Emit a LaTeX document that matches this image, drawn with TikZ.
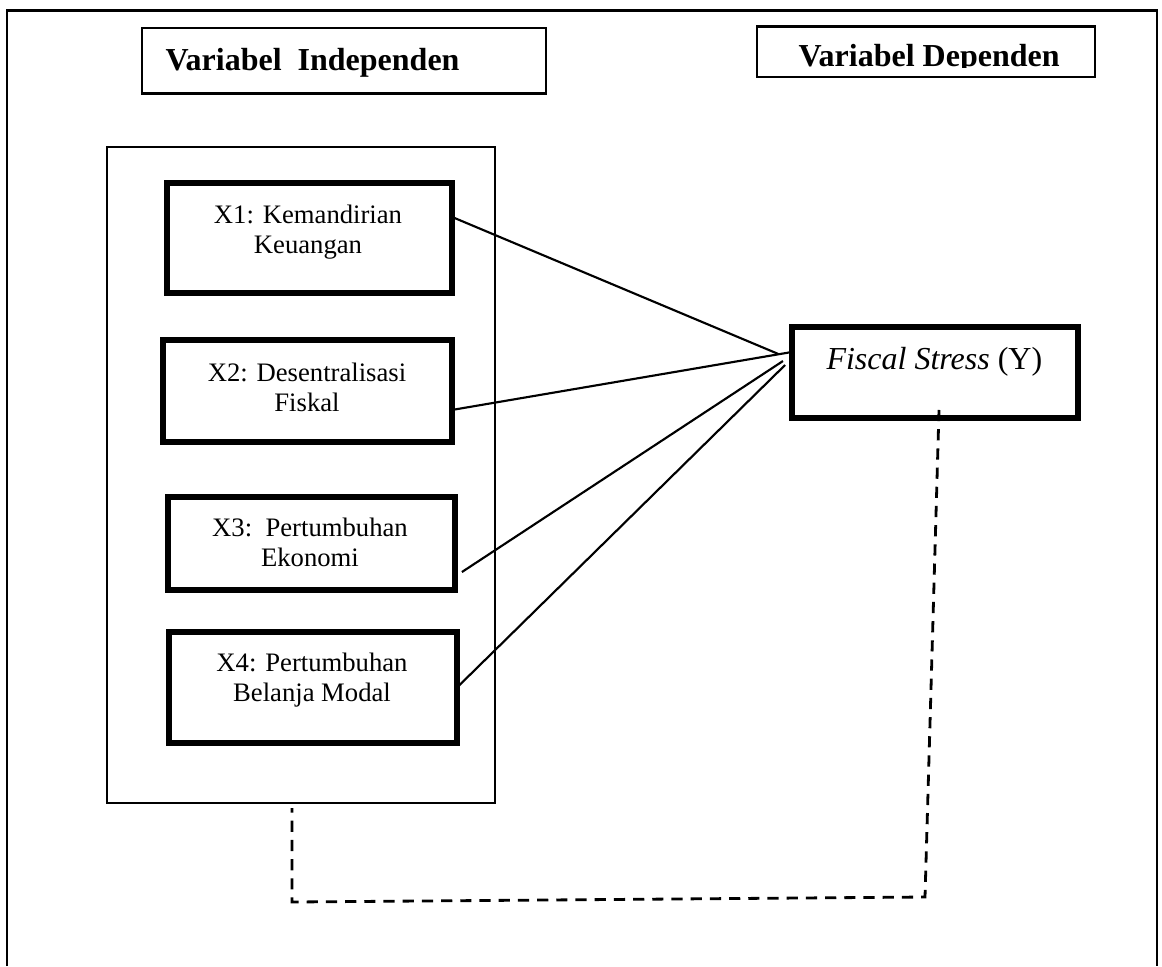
\documentclass[tikz,border=0pt]{standalone}
\usepackage{fontspec}
\setmainfont{Liberation Serif}
\usetikzlibrary{calc}
\begin{document}
\begin{tikzpicture}[x=0.375pt, y=-0.375pt,
  frame/.style={line width=0.8pt},
  hdrbox/.style={draw, line width=1.1pt, inner sep=0pt, outer sep=0pt},
  varbox/.style={draw, line width=2.2pt, inner sep=0pt, outer sep=0pt},
  holder/.style={draw, line width=0.9pt, inner sep=0pt, outer sep=0pt},
  lbl/.style={inner sep=0pt, align=center, font=\fontsize{10}{11.3}\selectfont, anchor=north},
  hdr/.style={inner sep=0pt, font=\fontsize{12}{14}\selectfont\bfseries, anchor=base west},
  link/.style={line width=0.8pt},
  dep/.style={line width=1.05pt, dash pattern=on 4.2pt off 3pt}]

\useasboundingbox (0,0) rectangle (1162,966);
\draw[frame] (7,966) -- (7,10.5) -- (1157,10.5) -- (1157,966);

% headers
\node[hdrbox, minimum width=151.5pt, minimum height=24.4pt] (hind) at (344,60.5) {};
\node[hdr] (hindtext) at (165,70) {Variabel\ \ Independen};
\node[hdrbox, minimum width=126.75pt, minimum height=19.1pt] (hdep) at (926,51.5) {};
\begin{scope}
\clip (757,26) rectangle (1095,67.5);
\node[hdr] (hdeptext) at (798,66) {Variabel Dependen};
\end{scope}

% container of independent variables
\node[holder, minimum width=145.5pt, minimum height=246pt] (indep) at (301,475) {};

% independent variable boxes
\node[varbox, minimum width=106.9pt, minimum height=41.25pt] (x1) at (309.5,238) {};
\node[lbl] (x1text) at (308,204) {X1: Kemandirian\\Keuangan};
\node[varbox, minimum width=108.4pt, minimum height=38.25pt] (x2) at (307.5,391) {};
\node[lbl] (x2text) at (307,362) {X2: Desentralisasi\\Fiskal};
\node[varbox, minimum width=107.6pt, minimum height=34.9pt] (x3) at (311.5,543.5) {};
\node[lbl] (x3text) at (310,517) {X3:\ \ Pertumbuhan\\Ekonomi};
\node[varbox, minimum width=108pt, minimum height=41.6pt] (x4) at (313,687.5) {};
\node[lbl] (x4text) at (312,652) {X4: Pertumbuhan\\Belanja Modal};

% dependent variable
\node[varbox, minimum width=107.25pt, minimum height=34.1pt] (fs) at (935,372.5) {};
\node[inner sep=0pt, anchor=base west, font=\fontsize{12}{14}\selectfont] (fstext) at (826,369) {\textit{Fiscal Stress} (Y)};

% connectors
\draw[link] ([yshift=7.9pt]x1.east) -- ([xshift=-5.25pt,yshift=7pt]fs.west);
\draw[link] ([yshift=-7.1pt]x2.east) -- ([yshift=7.7pt]fs.west);
\draw[link] ([xshift=2.6pt,yshift=-10.7pt]x3.east) -- ([xshift=-3.4pt,yshift=4.3pt]fs.west);
\draw[link] (x4.east) -- ([xshift=-2.6pt,yshift=2.8pt]fs.west);

% dashed link
\coordinate (dr) at (925,897);
\coordinate (dl) at (292,902);
\draw[dep] ([xshift=1.5pt,yshift=3pt]fs.south) -- (dr) -- (dl) -- ([xshift=-3.4pt,yshift=-1.9pt]indep.south);
\end{tikzpicture}
\end{document}
